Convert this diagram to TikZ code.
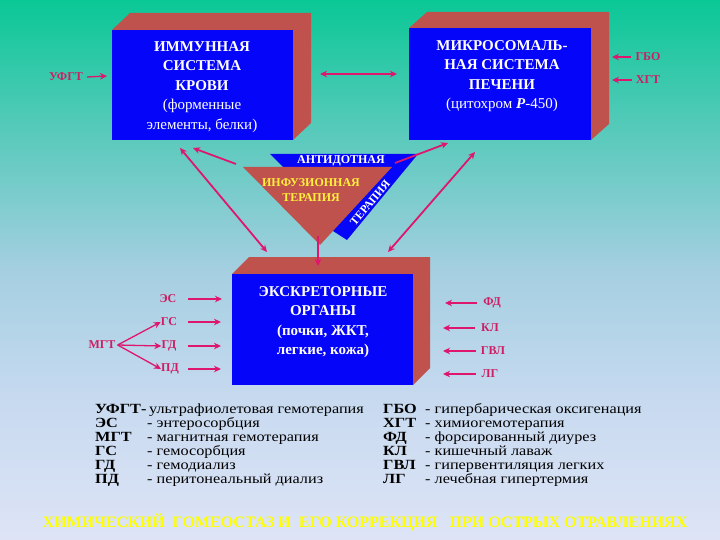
\documentclass[tikz,border=0pt]{standalone}
\usepackage{fontspec}
\setmainfont{Liberation Serif}
\newfontfamily\legfont[FakeStretch=1.16]{Liberation Serif}
\usetikzlibrary{arrows.meta}
\definecolor{bgA}{RGB}{10,200,150}
\definecolor{bgB}{RGB}{90,202,188}
\definecolor{bgC}{RGB}{165,207,225}
\definecolor{bgD}{RGB}{200,218,240}
\definecolor{bgE}{RGB}{222,228,246}
\definecolor{boxblue}{RGB}{5,5,250}
\definecolor{boxred}{RGB}{192,82,78}
\definecolor{arr}{RGB}{222,22,110}
\definecolor{lab}{RGB}{205,30,100}
\definecolor{ttl}{RGB}{255,255,0}
\definecolor{trityel}{RGB}{255,240,60}
\pgfdeclareverticalshading{bgsh}{100bp}{color(0bp)=(bgE); color(25bp)=(bgE); color(37.5bp)=(bgD); color(50bp)=(bgC); color(62.5bp)=(bgB); color(75bp)=(bgA); color(100bp)=(bgA)}
\tikzset{
  boxtext/.style={text=white, font=\fontsize{15}{19.5}\selectfont\bfseries, align=center, inner sep=0pt},
  labtext/.style={text=lab, font=\fontsize{12}{14}\selectfont\bfseries, inner sep=0pt},
  arw/.style={draw=arr, line width=1.8pt, -{Stealth[length=7pt,width=6.5pt]}},
  thinarw/.style={arw, line width=1.3pt},
  dblarw/.style={draw=arr, line width=1.8pt, {Stealth[length=7pt,width=6.5pt]}-{Stealth[length=7pt,width=6.5pt]}},
  legab/.style={anchor=base west, inner sep=0pt, font=\legfont\fontsize{14}{14}\selectfont\bfseries},
  legdesc/.style={anchor=base west, inner sep=0pt, font=\legfont\fontsize{14}{14}\selectfont},
}
\begin{document}
\begin{tikzpicture}[x=1pt,y=-1pt]
\shade[shading=bgsh] (0,0) rectangle (720,540);
\useasboundingbox (0,0) rectangle (720,540);

% immune box
\fill[boxred] (112,30) -- (130,13) -- (311,13) -- (311,123) -- (293,140) -- cycle;
\node[fill=boxblue, inner sep=0pt, minimum width=181pt, minimum height=110pt, anchor=north west] (imm) at (112,30) {};
\node[boxtext] (immt) at (202,87) {ИММУННАЯ\\СИСТЕМА\\КРОВИ\\{\mdseries (форменные}\\{\mdseries элементы, белки)}};

% microsomal box
\fill[boxred] (409,28) -- (427,12) -- (609,12) -- (609,124) -- (591,140) -- cycle;
\node[fill=boxblue, inner sep=0pt, minimum width=182pt, minimum height=112pt, anchor=north west] (mic) at (409,28) {};
\node[boxtext] (mict) at (502,76) {МИКРОСОМАЛЬ-\\НАЯ СИСТЕМА\\ПЕЧЕНИ\\{\mdseries (цитохром \textbf{\textit{P}}-450)}};

% excretory box
\fill[boxred] (232,274) -- (249,257) -- (430,257) -- (430,368) -- (413,385) -- cycle;
\node[fill=boxblue, inner sep=0pt, minimum width=181pt, minimum height=111pt, anchor=north west] (exc) at (232,274) {};
\node[boxtext] (exct) at (323,322) {ЭКСКРЕТОРНЫЕ\\ОРГАНЫ\\(почки, ЖКТ,\\легкие, кожа)};

% triangle
\fill[boxblue] (270,154) -- (418,154) -- (347,240) -- (333,231) -- (283,167) -- cycle;
\fill[boxred] (243,167) -- (392,167) -- (320,245) -- cycle;
\node[text=white, font=\fontsize{12}{14}\selectfont\bfseries, inner sep=0pt] (antid) at (341,160.5) {АНТИДОТНАЯ};
\node[text=white, font=\fontsize{11.5}{14}\selectfont\bfseries, inner sep=0pt, rotate=50] (ter2) at (370,203) {ТЕРАПИЯ};
\node[text=trityel, font=\fontsize{12}{15}\selectfont\bfseries, align=center, inner sep=0pt] (inf) at (311,190) {ИНФУЗИОННАЯ\\ТЕРАПИЯ};

% coordinates for arrows
\coordinate (imA) at (180,148);
\coordinate (exA) at (267,252);
\coordinate (triL) at (236,164);
\coordinate (imB) at (193,148);
\coordinate (triR) at (395,163);
\coordinate (miA) at (448,143);
\coordinate (miB) at (475,152);
\coordinate (exB) at (388,252);
\coordinate (apex) at (318,236);
\coordinate (exC) at (318,266);
\coordinate (btwL) at (320,74);
\coordinate (btwR) at (397,74);

\draw[dblarw] (imA) -- (exA);
\draw[arw] (triL) -- (imB);
\draw[arw] (triR) -- (miA);
\draw[dblarw] (miB) -- (exB);
\draw[arw] (apex) -- (exC);
\draw[dblarw] (btwL) -- (btwR);

% labels top
\node[labtext] (ufgt) at (66,77) {УФГТ};
\coordinate (ufgtE) at (107,76);
\draw[thinarw] (ufgt.east) ++(4,0) coordinate (ufgtS) -- (ufgtE);
\node[labtext] (gbo) at (648,57) {ГБО};
\node[labtext] (hgt) at (648,80) {ХГТ};
\coordinate (gboE) at (612,57);
\coordinate (hgtE) at (612,80);
\draw[thinarw] ([xshift=-4pt]gbo.west) -- (gboE);
\draw[thinarw] ([xshift=-4pt]hgt.west) -- (hgtE);

% left labels
\node[labtext] (es) at (168,299) {ЭС};
\node[labtext] (gs) at (169,322) {ГС};
\node[labtext] (gd) at (169,346) {ГД};
\node[labtext] (pd) at (170,369) {ПД};
\node[labtext] (mgt) at (102,345) {МГТ};
\coordinate (esS) at (188,299);
\coordinate (gsS) at (188,322);
\coordinate (gdS) at (188,346);
\coordinate (pdS) at (188,369);
\coordinate (esE) at (222,299);
\coordinate (gsE) at (221,322);
\coordinate (gdE) at (221,346);
\coordinate (pdE) at (221,369);
\draw[thinarw] (esS) -- (esE);
\draw[thinarw] (gsS) -- (gsE);
\draw[thinarw] (gdS) -- (gdE);
\draw[thinarw] (pdS) -- (pdE);
\draw[thinarw] (mgt.east) ++(2,0) coordinate (mgtS) -- (gs.west);
\draw[thinarw] (mgtS) -- (gd.west);
\draw[thinarw] (mgtS) -- (pd.west);

% right labels
\node[labtext] (fd) at (492,303) {ФД};
\node[labtext] (kl) at (490,328) {КЛ};
\node[labtext] (gvl) at (493,351) {ГВЛ};
\node[labtext] (lg) at (490,374) {ЛГ};
\coordinate (fdE) at (445,303);
\coordinate (klE) at (443,328);
\coordinate (gvlE) at (443,351);
\coordinate (lgE) at (443,374);
\draw[thinarw] ([xshift=-6pt]fd.west) -- (fdE);
\draw[thinarw] ([xshift=-6pt]kl.west) -- (klE);
\draw[thinarw] ([xshift=-5pt]gvl.west) -- (gvlE);
\draw[thinarw] ([xshift=-6pt]lg.west) -- (lgE);

% legend left
\node[legab] (la0) at (95,413) {УФГТ-};
\node[legab] (la1) at (95,427) {ЭС};
\node[legab] (la2) at (95,441) {МГТ};
\node[legab] (la3) at (95,455) {ГС};
\node[legab] (la4) at (95,469) {ГД};
\node[legab] (la5) at (95,483) {ПД};
\node[legdesc] (ld0) at (149,413) {ультрафиолетовая гемотерапия};
\node[legdesc] (ld1) at (147,427) {- энтеросорбция};
\node[legdesc] (ld2) at (147,441) {- магнитная гемотерапия};
\node[legdesc] (ld3) at (147,455) {- гемосорбция};
\node[legdesc] (ld4) at (147,469) {- гемодиализ};
\node[legdesc] (ld5) at (147,483) {- перитонеальный диализ};

% legend right
\node[legab] (ra0) at (383,413) {ГБО};
\node[legab] (ra1) at (383,427) {ХГТ};
\node[legab] (ra2) at (383,441) {ФД};
\node[legab] (ra3) at (383,455) {КЛ};
\node[legab] (ra4) at (383,469) {ГВЛ};
\node[legab] (ra5) at (383,483) {ЛГ};
\node[legdesc] (rd0) at (425,413) {- гипербарическая оксигенация};
\node[legdesc] (rd1) at (425,427) {- химиогемотерапия};
\node[legdesc] (rd2) at (425,441) {- форсированный диурез};
\node[legdesc] (rd3) at (425,455) {- кишечный лаваж};
\node[legdesc] (rd4) at (425,469) {- гипервентиляция легких};
\node[legdesc] (rd5) at (425,483) {- лечебная гипертермия};

% title
\node[text=ttl, font=\fontsize{16}{18}\selectfont\bfseries, inner sep=0pt] (title) at (365,522) {ХИМИЧЕСКИЙ\ \ ГОМЕОСТАЗ И\ \ ЕГО КОРРЕКЦИЯ\ \ \ ПРИ ОСТРЫХ ОТРАВЛЕНИЯХ};
\end{tikzpicture}
\end{document}
